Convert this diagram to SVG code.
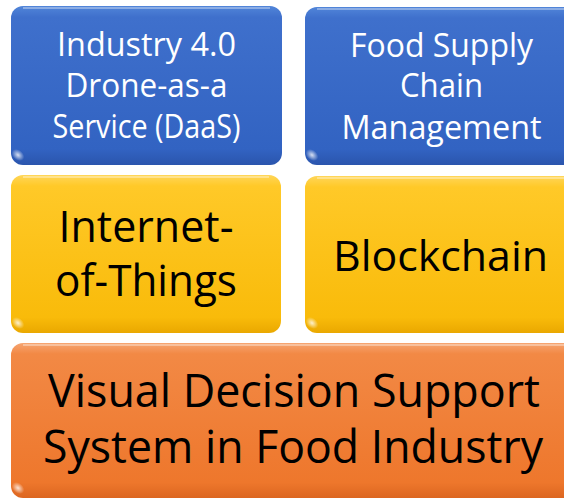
<svg xmlns="http://www.w3.org/2000/svg" width="564" height="502" viewBox="0 0 564 502">
  <defs>
    <linearGradient id="gBlue" x1="0" y1="0" x2="0" y2="1">
      <stop offset="0" stop-color="#5185d9"/>
      <stop offset="0.07" stop-color="#3f70cc"/>
      <stop offset="0.9" stop-color="#3263c2"/>
      <stop offset="1" stop-color="#2a55ad"/>
    </linearGradient>
    <linearGradient id="gYellow" x1="0" y1="0" x2="0" y2="1">
      <stop offset="0" stop-color="#ffd659"/>
      <stop offset="0.07" stop-color="#ffc928"/>
      <stop offset="0.9" stop-color="#f9bb0a"/>
      <stop offset="1" stop-color="#eaa800"/>
    </linearGradient>
    <linearGradient id="gOrange" x1="0" y1="0" x2="0" y2="1">
      <stop offset="0" stop-color="#f6a572"/>
      <stop offset="0.07" stop-color="#f28945"/>
      <stop offset="0.9" stop-color="#ee772c"/>
      <stop offset="1" stop-color="#dc6620"/>
    </linearGradient>
    <radialGradient id="glint" cx="0.5" cy="0.5" r="0.5">
      <stop offset="0" stop-color="#ffffff" stop-opacity="0.8"/>
      <stop offset="1" stop-color="#ffffff" stop-opacity="0"/>
    </radialGradient>
  </defs>
  <style>
    .t { font-family: "Open Sans", "Noto Sans", "Liberation Sans", sans-serif; text-anchor: middle; }
    .w { fill: #ffffff; font-size: 32px; }
    .k { fill: #000000; }
    .hl { fill: none; stroke: #ffffff; stroke-opacity: 0.35; stroke-width: 2; }
  </style>
  <rect width="564" height="502" fill="#ffffff"/>

  <g id="node-daas">
    <rect x="11" y="6" width="271" height="159" rx="12" fill="url(#gBlue)"/>
    <path class="hl" d="M23,8 H270"/>
    <ellipse cx="18" cy="155" rx="7" ry="5" fill="url(#glint)" transform="rotate(40 18 155)"/>
    <text class="t w" x="146.5" y="56" textLength="179" lengthAdjust="spacingAndGlyphs">Industry 4.0</text>
    <text class="t w" x="146.5" y="97" textLength="162" lengthAdjust="spacingAndGlyphs">Drone-as-a</text>
    <text class="t w" x="146.5" y="138" textLength="188" lengthAdjust="spacingAndGlyphs">Service (DaaS)</text>
  </g>

  <g id="node-fscm">
    <rect x="305" y="7" width="282" height="158" rx="12" fill="url(#gBlue)"/>
    <path class="hl" d="M317,9 H580"/>
    <ellipse cx="312" cy="155" rx="7" ry="5" fill="url(#glint)" transform="rotate(40 312 155)"/>
    <text class="t w" x="441.5" y="57" textLength="183" lengthAdjust="spacingAndGlyphs">Food Supply</text>
    <text class="t w" x="441.5" y="97" textLength="83" lengthAdjust="spacingAndGlyphs">Chain</text>
    <text class="t w" x="441.5" y="139" textLength="200" lengthAdjust="spacingAndGlyphs">Management</text>
  </g>

  <g id="node-iot">
    <rect x="11" y="175" width="270" height="158" rx="12" fill="url(#gYellow)"/>
    <path class="hl" d="M23,177 H269"/>
    <ellipse cx="18" cy="323" rx="7" ry="5" fill="url(#glint)" transform="rotate(40 18 323)"/>
    <text class="t k" x="146" y="242" font-size="43" textLength="175" lengthAdjust="spacingAndGlyphs">Internet-</text>
    <text class="t k" x="146" y="296" font-size="43" textLength="182" lengthAdjust="spacingAndGlyphs">of-Things</text>
  </g>

  <g id="node-blockchain">
    <rect x="305" y="176" width="282" height="157" rx="12" fill="url(#gYellow)"/>
    <path class="hl" d="M317,178 H580"/>
    <ellipse cx="312" cy="323" rx="7" ry="5" fill="url(#glint)" transform="rotate(40 312 323)"/>
    <text class="t k" x="440.5" y="271" font-size="42" textLength="215" lengthAdjust="spacingAndGlyphs">Blockchain</text>
  </g>

  <g id="node-vdss">
    <rect x="11" y="343" width="574" height="155" rx="12" fill="url(#gOrange)"/>
    <path class="hl" d="M23,345 H580"/>
    <ellipse cx="18" cy="488" rx="7" ry="5" fill="url(#glint)" transform="rotate(40 18 488)"/>
    <text class="t k" x="294" y="407" font-size="45" textLength="492" lengthAdjust="spacingAndGlyphs">Visual Decision Support</text>
    <text class="t k" x="293" y="463" font-size="45" textLength="500" lengthAdjust="spacingAndGlyphs">System in Food Industry</text>
  </g>

  <g id="connectors"/>
</svg>
